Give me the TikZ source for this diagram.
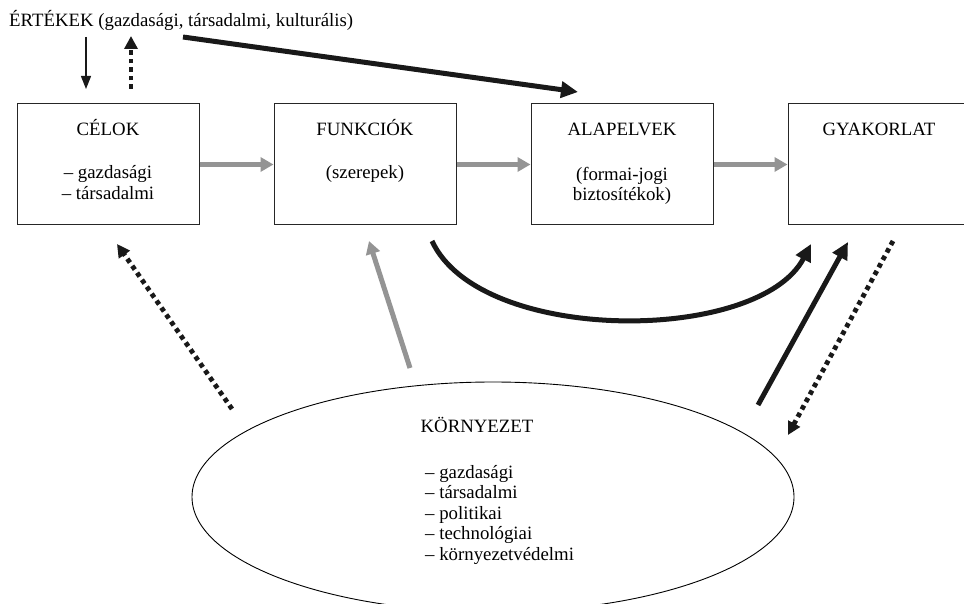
\documentclass[tikz,border=0pt]{standalone}
\usepackage{fontspec}
\setmainfont{Liberation Serif}
\usetikzlibrary{arrows.meta,shapes.geometric}
\begin{document}
\begin{tikzpicture}[x=1pt,y=-1pt,
  box/.style={draw=black!85,line width=1pt,minimum width=182pt,minimum height=121pt,inner sep=0pt},
  txt/.style={anchor=base,inner sep=0pt,font=\fontsize{18.8}{22}\selectfont},
  ltxt/.style={anchor=base west,inner sep=0pt,font=\fontsize{18.8}{22}\selectfont},
  grayarr/.style={draw=black!42,line width=5pt,-{Triangle[length=13pt,width=14pt,fill=black!42]}},
  blackarr/.style={draw=black!90,line width=5pt,-{Triangle[length=17pt,width=16pt]}},
  thinarr/.style={draw=black!90,line width=1.3pt,-{Triangle[length=13pt,width=10pt]}},
  dotarr/.style={draw=black!90,line width=4.8pt,dash pattern=on 4.5pt off 4pt,-{Triangle[length=13pt,width=13pt]}}]
\useasboundingbox (0,0) rectangle (964,604);
\clip (0,0) rectangle (964,604);
\fill[white] (0,0) rectangle (964,604);

% top text
\node[ltxt] (ert) at (9,27) {ÉRTÉKEK (gazdasági, társadalmi, kulturális)};

% boxes
\node[box] (celok) at (108,164.5) {};
\node[box] (funk) at (365,164.5) {};
\node[box] (alap) at (622,164.5) {};
\node[box] (gyak) at (879,164.5) {};

\node[txt] (t1) at (108,136) {CÉLOK};
\node[txt] (t1a) at (108,179) {– gazdasági};
\node[txt] (t1b) at (108,200) {– társadalmi};
\node[txt] (t2) at (365,136) {FUNKCIÓK};
\node[txt] (t2a) at (365,179) {(szerepek)};
\node[txt] (t3) at (622,136) {ALAPELVEK};
\node[txt] (t3a) at (622,181) {(formai-jogi};
\node[txt] (t3b) at (622,201) {biztosítékok)};
\node[txt] (t4) at (879,136) {GYAKORLAT};

% ellipse
\node[draw=black,line width=0.9pt,ellipse,minimum width=602pt,minimum height=230pt,inner sep=0pt] (korny) at (493,497) {};
\node[txt] (k0) at (477,432) {KÖRNYEZET};
\node[ltxt] (k1) at (425,478) {– gazdasági};
\node[ltxt] (k2) at (425,498.5) {– társadalmi};
\node[ltxt] (k3) at (425,519) {– politikai};
\node[ltxt] (k4) at (425,539.5) {– technológiai};
\node[ltxt] (k5) at (425,560) {– környezetvédelmi};

% coordinates
\coordinate (a1s) at (86,37);  \coordinate (a1e) at (86,89);
\coordinate (a2s) at (131,89); \coordinate (a2e) at (131,36);
\coordinate (a3s) at (183,37); \coordinate (a3e) at (578,92);
\coordinate (c1s) at (432,241); \coordinate (c1e) at (811,244);
\coordinate (g1s) at (410,368); \coordinate (g1e) at (369,241);
\coordinate (d1s) at (232,409); \coordinate (d1e) at (117,244);
\coordinate (b1s) at (758,405); \coordinate (b1e) at (848,242);
\coordinate (d2s) at (893,241); \coordinate (d2e) at (788,435);

% connectors
\draw[grayarr] (celok.east) -- (funk.west);
\draw[grayarr] (funk.east) -- (alap.west);
\draw[grayarr] (alap.east) -- (gyak.west);

\draw[thinarr] (a1s) -- (a1e);
\draw[dotarr] (a2s) -- (a2e);
\draw[blackarr] (a3s) -- (a3e);

\draw[blackarr] (c1s) .. controls (480,345) and (759,344) .. (c1e);
\draw[grayarr] (g1s) -- (g1e);
\draw[dotarr] (d1s) -- (d1e);
\draw[blackarr] (b1s) -- (b1e);
\draw[dotarr] (d2s) -- (d2e);
\end{tikzpicture}
\end{document}
